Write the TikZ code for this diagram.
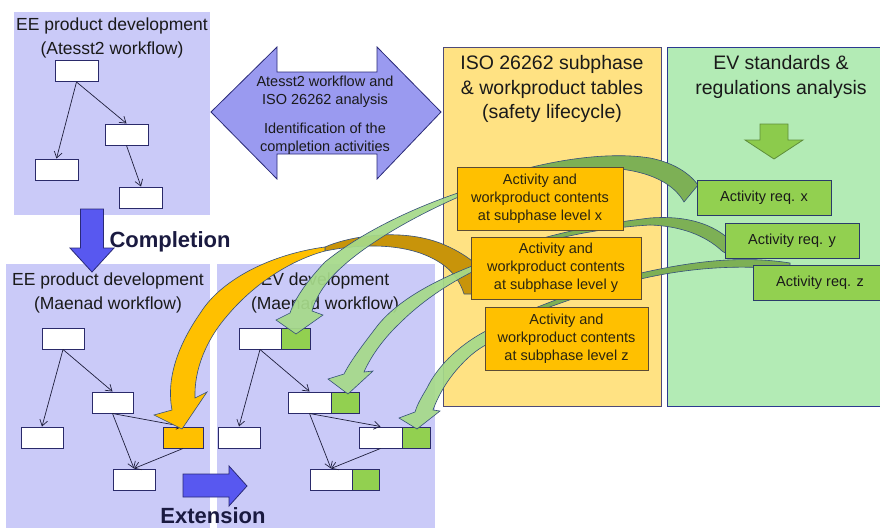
\documentclass[tikz,border=0pt]{standalone}
\usepackage{fontspec}
\setmainfont{Liberation Sans}
\usetikzlibrary{arrows.meta}
\newcommand\setfs[2]{\fontsize{#1}{#2}\selectfont}
\definecolor{lav}{HTML}{CACAF8}
\definecolor{dblarr}{HTML}{9A9AF0}
\definecolor{bluearr}{HTML}{5858F0}
\definecolor{navy}{HTML}{2A2A78}
\definecolor{ylw}{HTML}{FFE283}
\definecolor{ylwline}{HTML}{4E4A78}
\definecolor{grnp}{HTML}{B3EBB5}
\definecolor{grnline}{HTML}{2B3990}
\definecolor{orng}{HTML}{FFC000}
\definecolor{oln}{HTML}{5C4B33}
\definecolor{otxt}{HTML}{2A2410}
\definecolor{reqg}{HTML}{92D050}
\definecolor{reqln}{HTML}{2A3A6A}
\definecolor{gfront}{HTML}{A6DA8A}
\definecolor{gback}{HTML}{7DB055}
\definecolor{oback}{HTML}{C8940A}
\definecolor{arrline}{HTML}{35507A}
\definecolor{boxln}{HTML}{2A2A6A}
\definecolor{flowc}{HTML}{1E1E3C}
\definecolor{txtc}{HTML}{1A1A1A}
\definecolor{boldc}{HTML}{1A1A40}
\definecolor{gdown}{HTML}{8CCB4C}
\definecolor{gdownln}{HTML}{5E8E3A}
\begin{document}
\begin{tikzpicture}[x=1pt,y=-1pt,
  panel/.style={fill=lav, draw=none, inner sep=0, anchor=north west},
  txt/.style={inner sep=0, align=center, text=txtc},
  wbox/.style={draw=boxln, fill=white, line width=1pt, minimum width=43, minimum height=21, inner sep=0},
  gbox/.style={wbox, fill=reqg},
  flow/.style={draw=flowc, line width=0.7pt, -{Straight Barb[length=6pt,width=8pt]}},
  bigarrow/.style={fill=bluearr, draw=navy, line width=0.8pt},
  dblarrow/.style={fill=dblarr, draw=navy, line width=0.8pt},
  gfr/.style={fill=gfront, fill opacity=0.93, draw=arrline, line width=0.6pt},
  gbk/.style={fill=gback, draw=arrline, line width=0.6pt},
  ofr/.style={fill=orng, draw=arrline, line width=0.6pt},
  obk/.style={fill=oback, draw=arrline, line width=0.6pt},
  obox/.style={fill=orng, draw=oln, line width=1pt, inner sep=0, align=center, text=otxt, font=\setfs{14.5}{18}},
  req/.style={fill=reqg, draw=reqln, line width=1pt, minimum width=134, minimum height=35, inner sep=0, text=txtc, font=\setfs{14.5}{17}}
]
\useasboundingbox (0,0) rectangle (880,527);
\clip (0,0) rectangle (880,527);
\fill[white] (0,0) rectangle (880,527);

% panels
\node[panel,minimum width=196,minimum height=203] (pA) at (14,12) {};
\node[panel,minimum width=204,minimum height=270] (pB) at (6,264) {};
\node[panel,minimum width=218,minimum height=270] (pC) at (217,264) {};
\node[panel,fill=ylw,draw=ylwline,line width=1pt,minimum width=218,minimum height=359] (pI) at (443,47) {};
\node[panel,fill=grnp,draw=grnline,line width=1pt,minimum width=230,minimum height=359] (pE) at (667,47) {};

% titles
\node[txt,font=\setfs{17.5}{23.5}] (tA) at (112,38) {EE product development\\(Atesst2 workflow)};
\node[txt,font=\setfs{17.5}{23.5}] (tB) at (108,293) {EE product development\\(Maenad workflow)};
\node[txt,font=\setfs{17.5}{23.5}] (tC) at (325,293) {EV development\\(Maenad workflow)};
\node[txt,font=\setfs{19.5}{24.5}] (tI) at (552,89) {ISO 26262 subphase\\\& workproduct tables\\(safety lifecycle)};
\node[txt,font=\setfs{19.5}{24.5}] (tE) at (781,77) {EV standards \&\\regulations analysis};

% double arrow
\draw[dblarrow] (211,112) -- (277,47) -- (277,72) -- (377,72) -- (377,47) -- (441,112)
  -- (377,179) -- (377,154) -- (277,154) -- (277,179) -- cycle;
\node[txt,font=\setfs{14.5}{17.5}] (dA) at (325,92) {Atesst2 workflow and\\ISO 26262 analysis};
\node[txt,font=\setfs{14.5}{17.5}] (dB) at (325,139) {Identification of the\\completion activities};

% completion / extension
\draw[bigarrow] (80.5,209) -- (103.5,209) -- (103.5,248) -- (114,248) -- (92,272) -- (70,248) -- (80.5,248) -- cycle;
\node[txt,text=boldc,font=\bfseries\setfs{22}{26}] (cmp) at (170,242) {Completion};
\draw[bigarrow] (183,474) -- (229,474) -- (229,466) -- (247,486) -- (229,506) -- (229,497) -- (183,497) -- cycle;
\node[txt,text=boldc,font=\bfseries\setfs{22}{26}] (ext) at (213,516) {Extension};

% green down arrow
\draw[fill=gdown,draw=gdownln,line width=0.8pt] (760,124) -- (788,124) -- (788,140) -- (803,140) -- (774,159) -- (745,140) -- (760,140) -- cycle;

% Atesst2 workflow
\node[wbox] (a1) at (76.5,71) {};
\node[wbox] (a2) at (126.5,134.5) {};
\node[wbox] (a3) at (56.5,169.5) {};
\node[wbox] (a4) at (141,197.5) {};
\draw[flow] (a1.south) -- (a3.north);
\draw[flow] (a1.south) -- (a2.north);
\draw[flow] (a2.south) -- (a4.north);

% Maenad workflow (EE)
\node[wbox,minimum width=42] (b1) at (63,338.5) {};
\node[wbox,minimum width=41] (b2) at (112.5,402.5) {};
\node[wbox,minimum width=42] (b3) at (42,437.5) {};
\node[wbox,fill=orng,minimum width=40] (b4) at (183,437.5) {};
\node[wbox,minimum width=42] (b5) at (134,479.5) {};
\draw[flow] (b1.south) -- (b3.north);
\draw[flow] (b1.south) -- (b2.north);
\draw[flow] (b2.south) -- (b5.north);
\draw[flow] (b2.south) -- (b4.north);
\draw[flow] (b4.south) -- (b5.north);

% EV workflow
\node[wbox,minimum width=42] (c1) at (260,338.5) {};
\node[gbox,minimum width=29] (c1g) at (295.5,338.5) {};
\node[wbox] (c2) at (309.5,402.5) {};
\node[gbox,minimum width=28] (c2g) at (345,402.5) {};
\node[wbox,minimum width=42] (c3) at (239,437.5) {};
\node[wbox] (c4) at (380.5,437.5) {};
\node[gbox,minimum width=28] (c4g) at (416,437.5) {};
\node[wbox,minimum width=42] (c5) at (331,479.5) {};
\node[gbox,minimum width=27] (c5g) at (365.5,479.5) {};
\draw[flow] (c1.south) -- (c3.north);
\draw[flow] (c1.south) -- (c2.north);
\draw[flow] (c2.south) -- (c5.north);
\draw[flow] (c2.south) -- (c4.north);
\draw[flow] (c4.south) -- (c5.north);

% curved arrows: orange
\filldraw[obk] (325,247) .. controls (350,236) and (400,228) .. (440,243) .. controls (460,251) and (472,260) .. (480,268)
  -- (480,294) -- (464,294) .. controls (458,275) and (445,262) .. (420,253) .. controls (390,243) and (355,245) .. (325,251) -- cycle;
\filldraw[ofr] (325,247) .. controls (272,254) and (222,279) .. (201,312) .. controls (178,345) and (166,378) .. (172,410)
  -- (154,415) -- (182,429) -- (207,392) -- (195,398) .. controls (194,370) and (206,340) .. (227,316)
  .. controls (252,286) and (288,261) .. (325,251) -- cycle;

% curved arrows: green back parts
\filldraw[gbk] (480,183) .. controls (530,164) and (600,150) .. (650,158) .. controls (675,163) and (690,174) .. (698,185)
  -- (684,202) .. controls (675,186) and (655,173) .. (620,169) .. controls (580,166) and (530,175) .. (482,188) -- cycle;
\filldraw[gbk] (520,245) .. controls (560,232) and (600,224) .. (650,218) .. controls (690,215) and (715,226) .. (730,240)
  -- (730,256) -- (722,251) .. controls (705,235) and (680,226) .. (650,225) .. controls (600,228) and (560,237) .. (522,248) -- cycle;
\filldraw[gbk] (510,318) .. controls (560,298) and (600,282) .. (641,273) .. controls (690,262) and (740,255) .. (790,263)
  -- (790,270) .. controls (740,264) and (690,268) .. (645,278) .. controls (600,288) and (560,303) .. (512,321) -- cycle;

% curved arrows: green front parts
\filldraw[gfr] (470,189) .. controls (410,208) and (358,235) .. (325,262) .. controls (308,280) and (295,298) .. (290,313)
  -- (276,320) -- (296,334) -- (323,315) -- (312,311) .. controls (316,296) and (327,280) .. (343,266)
  .. controls (372,240) and (420,213) .. (470,192) -- cycle;
\filldraw[gfr] (480,263) .. controls (440,278) and (400,298) .. (378,325) .. controls (365,342) and (351,360) .. (344,374)
  -- (328,379) -- (348,394) -- (373,371) -- (364,372) .. controls (371,356) and (384,338) .. (400,323)
  .. controls (425,298) and (455,280) .. (480,268) -- cycle;
\filldraw[gfr] (492,328) .. controls (462,342) and (438,365) .. (427,388) .. controls (421,398) and (417,405) .. (415,412)
  -- (399,418) -- (417,429) -- (440,411) -- (433,410) .. controls (438,396) and (447,380) .. (460,366)
  .. controls (470,355) and (480,347) .. (492,342) -- cycle;

% orange boxes
\node[obox,minimum width=166,minimum height=63] (ox) at (540,198.5) {Activity and\\workproduct contents\\at subphase level x};
\node[obox,minimum width=170,minimum height=62] (oy) at (556,268) {Activity and\\workproduct contents\\at subphase level y};
\node[obox,minimum width=163,minimum height=63] (oz) at (566.5,338.5) {Activity and\\workproduct contents\\at subphase level z};

% requirement boxes
\node[req] (rx) at (764,197.5) {Activity req. x};
\node[req] (ry) at (792,240.5) {Activity req. y};
\node[req] (rz) at (820,282.5) {Activity req. z};
\end{tikzpicture}
\end{document}
